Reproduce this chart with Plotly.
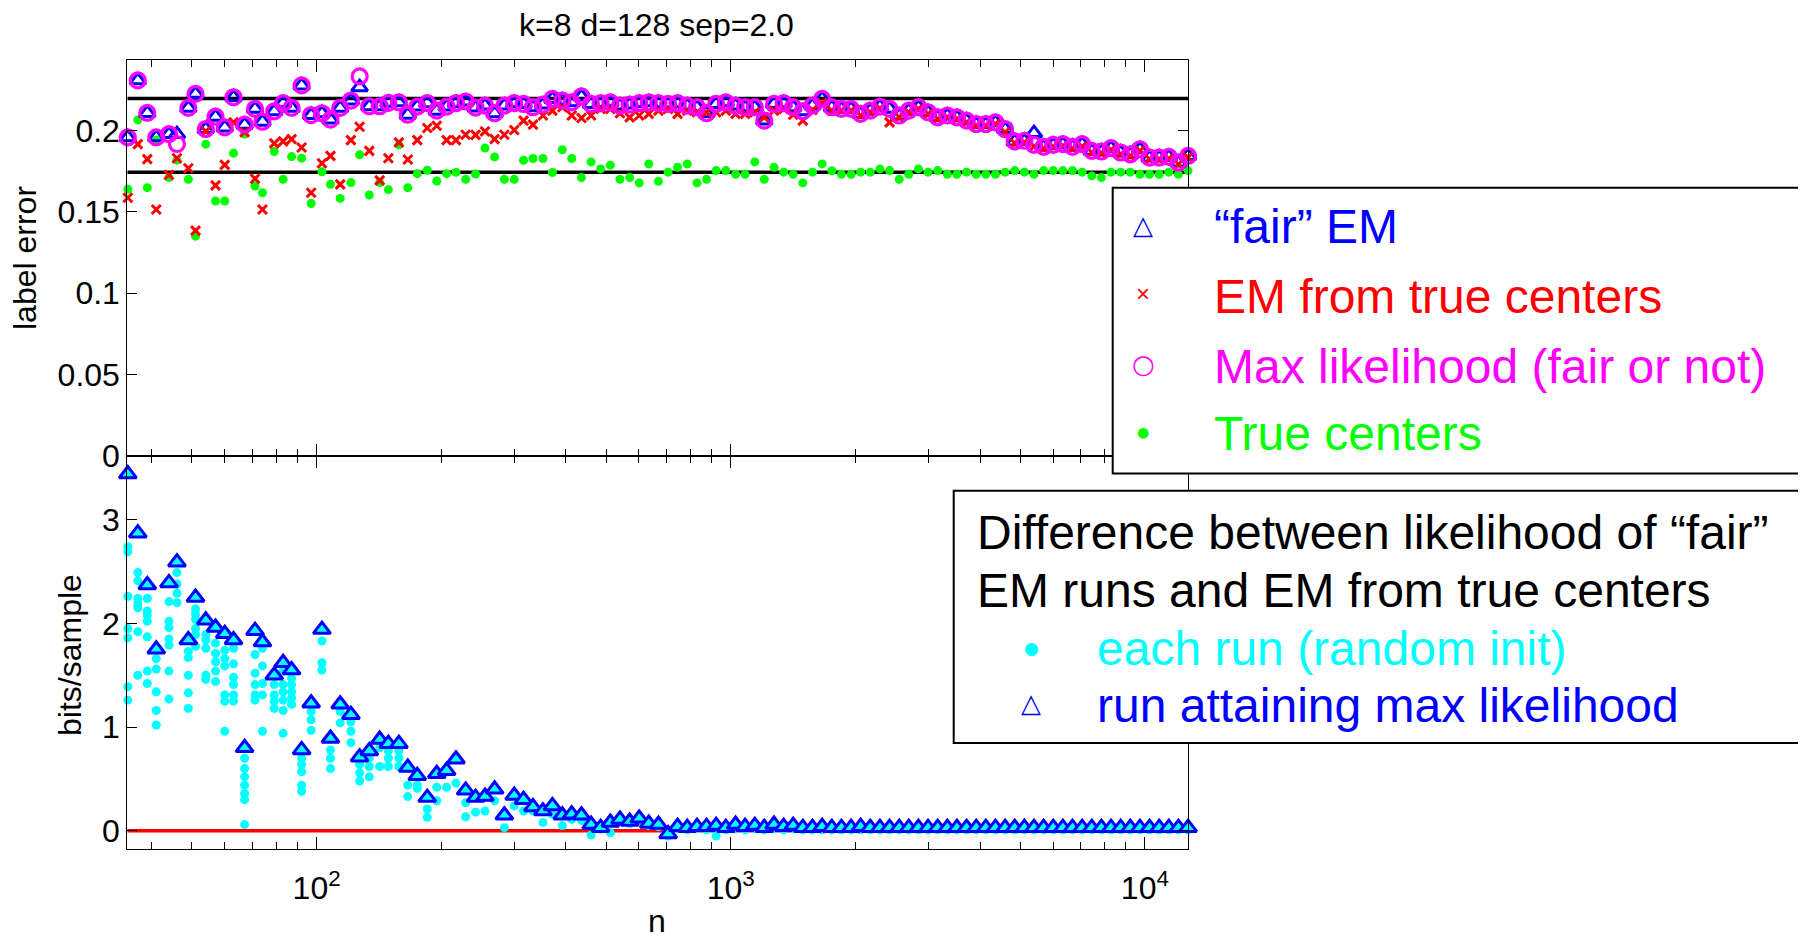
import math
import plotly.graph_objects as go

# ---------------- data ----------------
n_values = [35, 37, 39, 41, 44, 46, 49, 51, 54, 57,
            60, 63, 67, 71, 74, 79, 83, 87, 92, 97,
            103, 108, 114, 121, 127, 134, 142, 149, 158, 166,
            175, 185, 195, 206, 217, 229, 242, 255, 269, 284,
            300, 316, 333, 352, 371, 392, 413, 436, 460, 485,
            512, 540, 570, 601, 634, 669, 706, 744, 785, 829,
            874, 922, 973, 1027, 1083, 1143, 1205, 1272, 1342, 1415,
            1493, 1575, 1662, 1754, 1850, 1952, 2059, 2172, 2292, 2418,
            2551, 2691, 2839, 2995, 3160, 3334, 3517, 3711, 3915, 4130,
            4357, 4597, 4850, 5117, 5398, 5695, 6008, 6338, 6687, 7055,
            7443, 7852, 8284, 8740, 9220, 9727, 10262, 10827, 11422, 12051,
            12713]

max_lik = [0.1957, 0.2307, 0.2107, 0.1957, 0.1977, 0.1916, 0.2138, 0.2224, 0.2008, 0.2084,
           0.2018, 0.2203, 0.2035, 0.2132, 0.2053, 0.2117, 0.2167, 0.2138, 0.2276, 0.2094,
           0.2105, 0.2066, 0.2138, 0.2183, 0.2331, 0.2148, 0.2148, 0.2169, 0.2172, 0.2096,
           0.2146, 0.2167, 0.2121, 0.2146, 0.2167, 0.2177, 0.2140, 0.2152, 0.2105, 0.2152,
           0.2167, 0.2162, 0.2142, 0.2158, 0.2193, 0.2183, 0.2172, 0.2208, 0.2162, 0.2167,
           0.2172, 0.2152, 0.2158, 0.2167, 0.2172, 0.2167, 0.2162, 0.2167, 0.2152, 0.2142,
           0.2105, 0.2162, 0.2172, 0.2152, 0.2142, 0.2142, 0.2060, 0.2162, 0.2167, 0.2142,
           0.2117, 0.2152, 0.2193, 0.2142, 0.2132, 0.2132, 0.2101, 0.2121, 0.2146, 0.2132,
           0.2091, 0.2121, 0.2142, 0.2111, 0.2080, 0.2091, 0.2080, 0.2060, 0.2039, 0.2039,
           0.2049, 0.2008, 0.1932, 0.1936, 0.1911, 0.1899, 0.1911, 0.1915, 0.1899, 0.1915,
           0.1874, 0.1870, 0.1891, 0.1864, 0.1853, 0.1884, 0.1833, 0.1833, 0.1837, 0.1802,
           0.1843]

fair_em = [0.1957, 0.2307, 0.2107, 0.1957, 0.1977, 0.1977, 0.2138, 0.2224, 0.2008, 0.2084,
           0.2018, 0.2203, 0.2035, 0.2132, 0.2053, 0.2117, 0.2167, 0.2138, 0.2276, 0.2094,
           0.2105, 0.2066, 0.2138, 0.2183, 0.2265, 0.2148, 0.2148, 0.2169, 0.2172, 0.2096,
           0.2146, 0.2167, 0.2121, 0.2146, 0.2167, 0.2177, 0.2140, 0.2152, 0.2105, 0.2152,
           0.2167, 0.2162, 0.2142, 0.2158, 0.2193, 0.2183, 0.2172, 0.2208, 0.2162, 0.2167,
           0.2172, 0.2152, 0.2158, 0.2167, 0.2172, 0.2167, 0.2162, 0.2167, 0.2152, 0.2142,
           0.2105, 0.2162, 0.2172, 0.2152, 0.2142, 0.2142, 0.2060, 0.2162, 0.2167, 0.2142,
           0.2117, 0.2152, 0.2193, 0.2142, 0.2132, 0.2132, 0.2101, 0.2121, 0.2146, 0.2132,
           0.2091, 0.2121, 0.2142, 0.2111, 0.2080, 0.2091, 0.2080, 0.2060, 0.2039, 0.2039,
           0.2049, 0.2008, 0.1932, 0.1936, 0.1983, 0.1899, 0.1911, 0.1915, 0.1899, 0.1915,
           0.1874, 0.1870, 0.1891, 0.1864, 0.1853, 0.1884, 0.1833, 0.1833, 0.1837, 0.1802,
           0.1843]

em_true = [0.1586, 0.1915, 0.1823, 0.1514, 0.1726, 0.1829, 0.1767, 0.1384, 0.1994, 0.1662,
           0.1788, 0.2049, 0.1988, 0.1703, 0.1514, 0.1920, 0.1932, 0.1946, 0.1895, 0.1617,
           0.1798, 0.1843, 0.1668, 0.1940, 0.2022, 0.1874, 0.1693, 0.1829, 0.1926, 0.1821,
           0.1940, 0.2014, 0.2028, 0.1940, 0.1940, 0.1973, 0.1972, 0.1994, 0.1946, 0.1973,
           0.2002, 0.2060, 0.2035, 0.2091, 0.2121, 0.2142, 0.2091, 0.2076, 0.2091, 0.2132,
           0.2132, 0.2105, 0.2080, 0.2091, 0.2101, 0.2121, 0.2132, 0.2101, 0.2121, 0.2111,
           0.2111, 0.2111, 0.2121, 0.2101, 0.2101, 0.2111, 0.2080, 0.2121, 0.2132, 0.2096,
           0.2060, 0.2125, 0.2167, 0.2121, 0.2122, 0.2122, 0.2091, 0.2111, 0.2136, 0.2049,
           0.2081, 0.2111, 0.2132, 0.2101, 0.2070, 0.2081, 0.2070, 0.2050, 0.2029, 0.2029,
           0.2039, 0.1988, 0.1922, 0.1926, 0.1901, 0.1889, 0.1901, 0.1905, 0.1889, 0.1900,
           0.1864, 0.1860, 0.1881, 0.1854, 0.1843, 0.1874, 0.1823, 0.1823, 0.1827, 0.1792,
           0.1833]

true_ctr = [0.1638, 0.2064, 0.1648, 0.1940, 0.1710, 0.1817, 0.1699, 0.1350, 0.1915, 0.1566,
            0.1566, 0.1860, 0.1977, 0.1658, 0.1617, 0.1870, 0.1699, 0.1839, 0.1829, 0.1551,
            0.1745, 0.1669, 0.1582, 0.1679, 0.1850, 0.1603, 0.1679, 0.1636, 0.1911, 0.1648,
            0.1734, 0.1755, 0.1689, 0.1734, 0.1742, 0.1699, 0.1732, 0.1891, 0.1837, 0.1699,
            0.1699, 0.1816, 0.1827, 0.1827, 0.1741, 0.1881, 0.1827, 0.1710, 0.1806, 0.1763,
            0.1786, 0.1699, 0.1710, 0.1677, 0.1794, 0.1687, 0.1743, 0.1773, 0.1794, 0.1677,
            0.1699, 0.1753, 0.1753, 0.1730, 0.1730, 0.1806, 0.1699, 0.1773, 0.1743, 0.1730,
            0.1677, 0.1743, 0.1794, 0.1752, 0.1730, 0.1730, 0.1743, 0.1743, 0.1763, 0.1753,
            0.1699, 0.1730, 0.1763, 0.1743, 0.1753, 0.1730, 0.1730, 0.1743, 0.1730, 0.1730,
            0.1730, 0.1743, 0.1753, 0.1743, 0.1730, 0.1753, 0.1753, 0.1753, 0.1753, 0.1743,
            0.1720, 0.1710, 0.1743, 0.1743, 0.1743, 0.1730, 0.1730, 0.1730, 0.1743, 0.1730,
            0.1753]

ref_lines = [0.2195, 0.1742]   # black reference levels (upper panel)
zero_line = 0.0                # red reference level (lower panel)

bits_ml = [3.44, 2.87, 2.37, 1.75, 2.39, 2.59, 1.84, 2.25, 2.03, 1.96,
           1.90, 1.84, 0.80, 1.93, 1.82, 1.50, 1.62, 1.55, 0.78, 1.23,
           1.94, 0.89, 1.22, 1.12, 0.71, 0.77, 0.88, 0.84, 0.84, 0.61,
           0.53, 0.32, 0.55, 0.58, 0.69, 0.39, 0.32, 0.33, 0.40, 0.15,
           0.34, 0.30, 0.23, 0.19, 0.24, 0.15, 0.16, 0.15, 0.06, 0.03,
           0.08, 0.11, 0.09, 0.12, 0.07, 0.06, -0.03, 0.04, 0.03, 0.04,
           0.04, 0.05, 0.03, 0.06, 0.04, 0.05, 0.03, 0.06, 0.04, 0.05,
           0.03, 0.03, 0.04, 0.03, 0.03, 0.03, 0.04, 0.03, 0.03, 0.03,
           0.03, 0.03, 0.03, 0.03, 0.03, 0.03, 0.03, 0.03, 0.03, 0.03,
           0.03, 0.03, 0.03, 0.03, 0.03, 0.03, 0.03, 0.03, 0.03, 0.03,
           0.03, 0.03, 0.03, 0.03, 0.03, 0.03, 0.03, 0.03, 0.03, 0.03,
           0.03]

bits_runs = [
    [2.74, 2.69, 2.26, 1.95, 1.86, 1.39, 1.26],
    [2.49, 2.41, 2.24, 2.19, 2.15, 1.92, 1.50],
    [2.24, 2.12, 2.08, 2.02, 1.87, 1.54, 1.42],
    [1.66, 1.56, 1.34, 1.16, 1.02],
    [2.21, 2.02, 1.96, 1.85, 1.79, 1.54, 1.27],
    [2.49, 2.38, 2.29, 2.20],
    [1.73, 1.67, 1.50, 1.33, 1.18],
    [2.14, 2.09, 2.04, 1.95, 1.89, 1.78],
    [1.89, 1.84, 1.76, 1.50, 1.46],
    [1.81, 1.71, 1.63, 1.54, 1.44],
    [1.74, 1.66, 1.59, 1.31, 1.25, 0.96],
    [1.76, 1.61, 1.48, 1.41, 1.31, 1.25],
    [0.70, 0.60, 0.52, 0.44, 0.36, 0.30, 0.06],
    [1.70, 1.52, 1.41, 1.31, 1.26],
    [1.76, 1.59, 1.42, 1.31, 0.96],
    [1.41, 1.31, 1.25, 1.18],
    [1.54, 1.41, 1.34, 1.26, 1.16, 0.94],
    [1.47, 1.41, 1.34, 1.28, 1.22],
    [0.70, 0.64, 0.57, 0.44, 0.38],
    [1.15, 1.07, 0.97],
    [1.83, 1.62, 1.55],
    [0.78, 0.70, 0.60],
    [1.15, 1.04],
    [1.05, 0.96, 0.85],
    [0.64, 0.56, 0.48],
    [0.70, 0.62, 0.52],
    [0.80, 0.62],
    [0.77, 0.70, 0.62],
    [0.77, 0.70, 0.62],
    [0.44, 0.33],
    [0.44, 0.41],
    [0.21, 0.13],
    [0.42, 0.29],
    [0.42],
    [0.46],
    [0.27, 0.135],
    [0.18],
    [0.19],
    [0.29],
    [0.03],
    [0.24],
    [0.19],
    [0.19],
    [0.08],
    [0.16],
    [0.05],
    [0.11],
    [0.10],
    [-0.04],
    [0.016],
    [-0.02],
    [0.09], [0.07], [0.10], [0.05], [0.04], [-0.05], [0.02], [0.01], [0.02],
    [0.02, 0.01], [-0.05, 0.03], [0.01, 0.02], [0.04, 0.02], [0.02, 0.01],
    [0.03, 0.02], [0.01, 0.02], [0.04, 0.02], [0.02, 0.01], [0.03, 0.02],
    [0.01, 0.02], [0.02, 0.01], [0.02, 0.01], [0.02, 0.01], [0.02, 0.01],
    [0.02, 0.01], [0.02, 0.01], [0.02, 0.01], [0.02, 0.01], [0.02, 0.01],
    [0.02, 0.01], [0.02, 0.01], [0.02, 0.01], [0.02, 0.01], [0.02, 0.01],
    [0.02, 0.01], [0.02, 0.01], [0.02, 0.01], [0.02, 0.01], [0.02, 0.01],
    [0.02, 0.01], [0.02, 0.01], [0.02, 0.01], [0.02, 0.01], [0.02, 0.01],
    [0.02, 0.01], [0.02, 0.01], [0.02, 0.01], [0.02, 0.01], [0.02, 0.01],
    [0.02, 0.01], [0.02, 0.01], [0.02, 0.01], [0.02, 0.01], [0.02, 0.01],
    [0.02, 0.01], [0.02, 0.01], [0.02, 0.01], [0.02, 0.01], [0.02, 0.01],
    [0.02, 0.01],
]

x_limits = [34.9, 12730]
x_major = [100, 1000, 10000]
x_major_text = ["10<sup>2</sup>", "10<sup>3</sup>", "10<sup>4</sup>"]
x_minor = [40, 50, 60, 70, 80, 90,
           200, 300, 400, 500, 600, 700, 800, 900,
           2000, 3000, 4000, 5000, 6000, 7000, 8000, 9000]
y1_limits = [0, 0.2432]
y1_ticks = [0, 0.05, 0.1, 0.15, 0.2]
y1_text = ["0", "0.05", "0.1", "0.15", "0.2"]
y2_limits = [-0.1755, 3.614]
y2_ticks = [0, 1, 2, 3]

title_text = "k=8 d=128 sep=2.0"

# ---------------- figure ----------------
# the page body has an 8px margin, so the figure is offset by 8px
OFF = 8
W, H = 1806 - OFF, 939 - OFF
FONT = "Liberation Sans, Arial, Helvetica, sans-serif"
BLUE, RED, MAG, GRN, CYN = "#0000FF", "#FF0000", "#FF00FF", "#00FF00", "#00FFFF"


def px(x):
    return (x - OFF) / W


def py(y):
    return 1 - (y - OFF) / H


fig = go.Figure()

# upper panel
for lv in ref_lines:
    fig.add_trace(go.Scatter(x=x_limits, y=[lv, lv], mode="lines",
                             line=dict(color="black", width=3.5), xaxis="x", yaxis="y",
                             showlegend=False, hoverinfo="skip"))
fig.add_trace(go.Scatter(x=n_values, y=true_ctr, mode="markers", name="True centers",
                         marker=dict(symbol="circle", size=9, color=GRN),
                         xaxis="x", yaxis="y", cliponaxis=False))
fig.add_trace(go.Scatter(x=n_values, y=fair_em, mode="markers", name="fair EM",
                         marker=dict(symbol="triangle-up-open", size=14, color=BLUE,
                                     line=dict(width=3, color=BLUE)),
                         xaxis="x", yaxis="y", cliponaxis=False))
fig.add_trace(go.Scatter(x=n_values, y=em_true, mode="markers", name="EM from true centers",
                         marker=dict(symbol="x-thin-open", size=9, color=RED,
                                     line=dict(width=3, color=RED)),
                         xaxis="x", yaxis="y", cliponaxis=False))
fig.add_trace(go.Scatter(x=n_values, y=max_lik, mode="markers", name="Max likelihood",
                         marker=dict(symbol="circle-open", size=15, color=MAG,
                                     line=dict(width=3.2, color=MAG)),
                         xaxis="x", yaxis="y", cliponaxis=False))

# lower panel
fig.add_trace(go.Scatter(x=x_limits, y=[zero_line, zero_line], mode="lines",
                         line=dict(color=RED, width=3.5), xaxis="x2", yaxis="y2",
                         showlegend=False, hoverinfo="skip"))
run_x = [nv for nv, runs in zip(n_values, bits_runs) for _ in runs]
run_y = [v for runs in bits_runs for v in runs]
fig.add_trace(go.Scatter(x=run_x, y=run_y, mode="markers", name="each run",
                         marker=dict(symbol="circle", size=9, color=CYN),
                         xaxis="x2", yaxis="y2", cliponaxis=False))
fig.add_trace(go.Scatter(x=n_values, y=bits_ml, mode="markers", name="run attaining max likelihood",
                         marker=dict(symbol="triangle-up", size=15, color=CYN,
                                     line=dict(width=3, color=BLUE)),
                         xaxis="x2", yaxis="y2", cliponaxis=False))

xr = [math.log10(x_limits[0]), math.log10(x_limits[1])]
xdom = [px(127.3), px(1188.3)]
axis_common = dict(showline=True, linecolor="black", linewidth=1, mirror="ticks",
                   ticks="inside", tickcolor="black", showgrid=False, zeroline=False,
                   automargin=False,
                   tickfont=dict(family=FONT, size=32, color="black"))

fig.update_layout(
    width=W, height=H, margin=dict(l=0, r=0, t=0, b=0, autoexpand=False),
    paper_bgcolor="white", plot_bgcolor="white", showlegend=False,
    font=dict(family=FONT, color="black"),
    xaxis=dict(type="log", range=xr, domain=xdom, anchor="y",
               tickvals=x_major, ticktext=x_major_text, showticklabels=False, ticklen=12,
               minor=dict(tickvals=x_minor, ticks="inside", ticklen=7, tickcolor="black"),
               **axis_common),
    yaxis=dict(range=y1_limits, domain=[py(456), py(60)], anchor="x",
               tickvals=y1_ticks, ticktext=y1_text, ticklen=10, **axis_common),
    xaxis2=dict(type="log", range=xr, domain=xdom, anchor="y2",
                tickvals=x_major, ticktext=x_major_text, ticklen=12,
                ticklabelstandoff=11,
                minor=dict(tickvals=x_minor, ticks="inside", ticklen=7, tickcolor="black"),
                **axis_common),
    yaxis2=dict(range=y2_limits, domain=[py(849), py(456)], anchor="x2",
                tickvals=y2_ticks, ticklen=10, **axis_common),
)

# legend boxes
fig.add_shape(type="rect", xref="paper", yref="paper", x0=px(1112.7), x1=px(1800.3),
              y0=py(473.4), y1=py(187.7), line=dict(color="black", width=2),
              fillcolor="white", layer="above")
fig.add_shape(type="rect", xref="paper", yref="paper", x0=px(953.7), x1=px(1800.3),
              y0=py(742.9), y1=py(490.7), line=dict(color="black", width=2),
              fillcolor="white", layer="above")


def ann(text, x, y, size=48, color="black", xanchor="left", angle=0, family=FONT):
    fig.add_annotation(text=text, x=px(x), y=py(y), xref="paper", yref="paper",
                       xanchor=xanchor, yanchor="middle", showarrow=False, textangle=angle,
                       font=dict(family=family, size=size, color=color))


SYM = "DejaVu Sans, sans-serif"
# legend 1
ann("\u25B3", 1143, 225, size=26, color=BLUE, xanchor="center", family=SYM)
ann("\u00D7", 1143, 294, size=24, color=RED, xanchor="center")
ann("\u25CB", 1143, 364, size=26, color=MAG, xanchor="center", family=SYM)
ann("\u25CF", 1143, 432, size=14, color=GRN, xanchor="center", family=SYM)
ann("\u201Cfair\u201D EM", 1212, 227, color=BLUE)
ann("EM from true centers", 1212, 297, color=RED)
ann("Max likelihood (fair or not)", 1212, 366, color=MAG)
ann("True centers", 1212, 434, color=GRN)
# legend 2
ann("Difference between likelihood of \u201Cfair\u201D", 974.6, 532)
ann("EM runs and EM from true centers", 974.6, 590)
ann("\u25CF", 1031, 648, size=17, color=CYN, xanchor="center", family=SYM)
ann("each run (random init)", 1094.6, 648, color=CYN)
ann("\u25B3", 1031, 703, size=26, color=BLUE, xanchor="center", family=SYM)
ann("run attaining max likelihood", 1094.6, 705, color=BLUE)

# titles / axis labels
ann(title_text, 656.5, 25, size=32, xanchor="center")
ann("label error", 25, 258, size=32, xanchor="center", angle=-90)
ann("bits/sample", 70, 655, size=32, xanchor="center", angle=-90)
ann("n", 656.5, 921, size=32, xanchor="center")

fig.write_html("out.html")
